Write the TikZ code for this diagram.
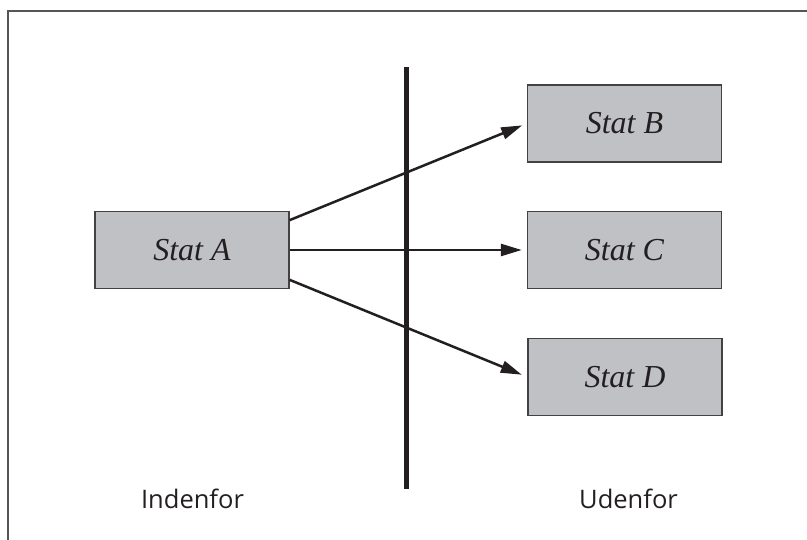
\documentclass[tikz,border=0pt]{standalone}
\usepackage{fontspec}
\setmainfont{Liberation Serif}
\newfontfamily\labelfont{Open Sans}
\usetikzlibrary{arrows.meta}
\definecolor{boxfill}{RGB}{192,193,196}
\definecolor{ink}{RGB}{35,31,32}
\definecolor{framegray}{RGB}{85,85,85}
\tikzset{
  statbox/.style={draw=ink!85, line width=1.3pt, fill=boxfill, minimum width=194pt, minimum height=77pt, inner sep=0pt, font=\fontsize{32}{32}\selectfont\itshape, text=ink},
  flow/.style={draw=ink, line width=2.5pt, -{Triangle[length=21pt,width=12pt]}},
  sidelabel/.style={font=\labelfont\fontsize{25.5}{25.5}\selectfont, text=ink, anchor=base, inner sep=0pt}
}
\begin{document}
\begin{tikzpicture}[x=1pt,y=-1pt]
\useasboundingbox (0,0) rectangle (807,540);
\draw[framegray, line width=1.3pt] (8,540) -- (8,11) -- (807,11);
\node[statbox] (A) at (192,250) {Stat A};
\node[statbox] (B) at (624.5,123.5) {Stat B};
\node[statbox] (C) at (624.5,250) {Stat C};
\node[statbox] (D) at (625,377) {Stat D};
\coordinate (top) at (406.5,67);
\coordinate (bot) at (406.5,489);
\draw[ink, line width=5pt] (top) -- (bot);
\draw[flow, shorten >=5pt] (A.17.5) -- (B.west);
\draw[flow, shorten >=5pt] (A.east) -- (C.west);
\draw[flow, shorten >=6pt] (A.-17) -- (D.west);
\node[sidelabel] (in) at (192.5,508) {Indenfor};
\node[sidelabel] (out) at (628.5,508) {Udenfor};
\end{tikzpicture}
\end{document}
